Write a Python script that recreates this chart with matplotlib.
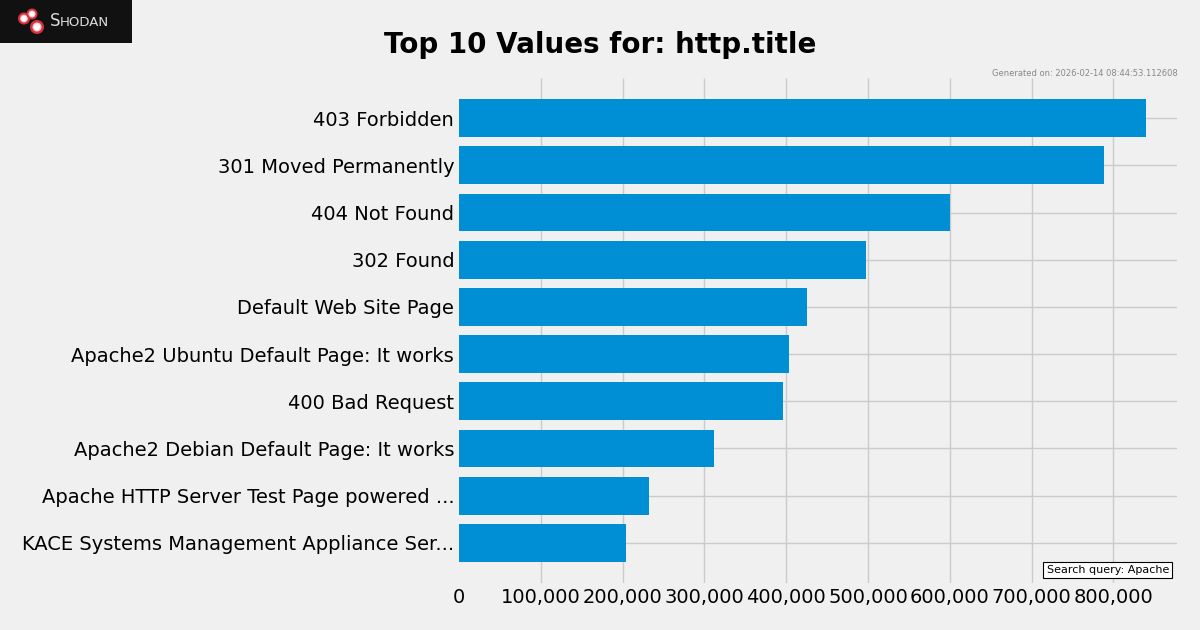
import matplotlib
matplotlib.use("Agg")
import matplotlib.pyplot as plt
from matplotlib.patches import Circle, Rectangle
from matplotlib.ticker import FuncFormatter

plt.style.use("fivethirtyeight")
plt.rcParams['font.family'] = ['DejaVu Sans']

categories = [
    "403 Forbidden",
    "301 Moved Permanently",
    "404 Not Found",
    "302 Found",
    "Default Web Site Page",
    "Apache2 Ubuntu Default Page: It works",
    "400 Bad Request",
    "Apache2 Debian Default Page: It works",
    "Apache HTTP Server Test Page powered ...",
    "KACE Systems Management Appliance Ser...",
]
values = [840000, 788500, 600000, 497500, 425000, 403000, 396000, 311500, 232000, 204000]
xticks = [0, 100000, 200000, 300000, 400000, 500000, 600000, 700000, 800000]

title = "Top 10 Values for: http.title"
generated = "Generated on: 2026-02-14 08:44:53.112608"
query = "Search query: Apache"

fig = plt.figure(figsize=(12, 6.3), dpi=100)
ax = fig.add_axes([459.0 / 1200, 1 - 583 / 630, 718.0 / 1200, 505 / 630])

ypos = list(range(len(categories)))[::-1]
ax.barh(ypos, values, height=0.8, color="#008fd5")
ax.set_yticks(ypos)
ax.set_yticklabels(categories, fontsize=14)
ax.set_ylim(-0.85, len(categories) - 1 + 0.85)
ax.set_xticks(xticks)
ax.xaxis.set_major_formatter(FuncFormatter(lambda v, p: f"{int(v):,}"))
ax.tick_params(axis='x', labelsize=14)
ax.set_xlim(0, max(values) * 1.045)
for s in ax.spines.values():
    s.set_visible(False)
ax.xaxis.get_gridlines()[0].set_visible(False)

fig.text(0.5, 1 - 45 / 630, title, ha='center', va='center', fontsize=20, fontweight='bold')
fig.text(1178 / 1200, 1 - 74 / 630, generated, ha='right', va='center', fontsize=6, color='#888888')
fig.text(1169 / 1200, 1 - 570 / 630, query, ha='right', va='center', fontsize=8,
         bbox=dict(boxstyle='square,pad=0.3', facecolor='white', edgecolor='black', linewidth=0.8))

# Shodan logo
lax = fig.add_axes([0, 1 - 43 / 630, 132 / 1200, 43 / 630])
lax.set_xlim(0, 132)
lax.set_ylim(43, 0)
lax.axis('off')
lax.add_patch(Rectangle((0, 0), 132, 43, facecolor='#111111', edgecolor='none'))
for (cx, cy, r) in [(24, 18.5, 6), (32, 14, 5.5), (37, 27, 7)]:
    lax.add_patch(Circle((cx, cy), r, facecolor='#d8323c', edgecolor='none'))
    lax.add_patch(Circle((cx, cy), r * 0.65, facecolor='#f4c8cc', edgecolor='none'))
    lax.add_patch(Circle((cx, cy), r * 0.45, facecolor='white', edgecolor='none'))
lax.text(50, 21, "S", fontsize=12, color='#dddddd', va='center', ha='left')
lax.text(60, 22, "HODAN", fontsize=9.5, color='#dddddd', va='center', ha='left')

fig.savefig("out.png", dpi=100)
